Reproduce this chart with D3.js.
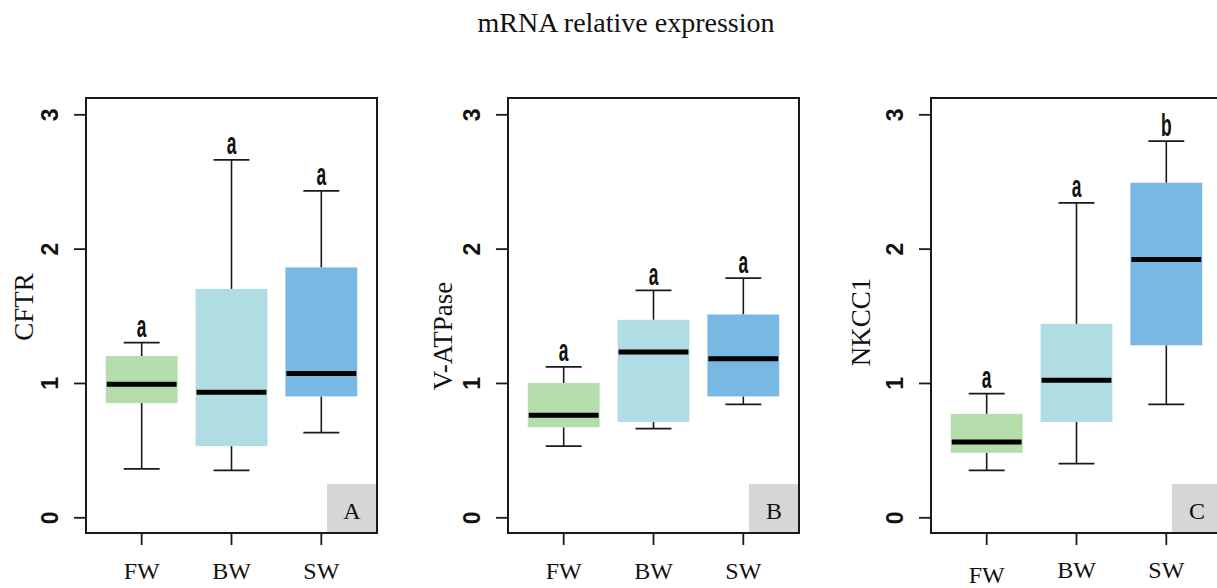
<!DOCTYPE html>
<html>
<head>
<meta charset="utf-8">
<script src="https://cdn.jsdelivr.net/npm/d3@7"></script>
<style>
  html, body { margin: 0; padding: 0; background: #ffffff; }
  svg { display: block; }
</style>
</head>
<body>
<div id="chart"></div>
<script>
// ---------------- data ----------------
const chartTitle = "mRNA relative expression";
const groups = ["FW", "BW", "SW"];
const genes = ["CFTR", "V-ATPase", "NKCC1"];
const panelTags = ["A", "B", "C"];
const yTicks = [0, 1, 2, 3];
// per gene, per group (FW, BW, SW)
const whiskerLow  = [[0.36, 0.35, 0.63], [0.53, 0.66, 0.84], [0.35, 0.40, 0.84]];
const q1          = [[0.85, 0.53, 0.90], [0.67, 0.71, 0.90], [0.48, 0.71, 1.28]];
const median      = [[0.99, 0.93, 1.07], [0.76, 1.23, 1.18], [0.56, 1.02, 1.92]];
const q3          = [[1.20, 1.70, 1.86], [1.00, 1.47, 1.51], [0.77, 1.44, 2.49]];
const whiskerHigh = [[1.30, 2.66, 2.43], [1.12, 1.69, 1.78], [0.92, 2.34, 2.80]];
const sigLetters  = [["a", "a", "a"], ["a", "a", "a"], ["a", "a", "b"]];
const groupColors = ["#b4ddab", "#afdde3", "#79b8e5"];

// ---------------- layout ----------------
const W = 1217, H = 588;
const panelLeft = [86, 508, 931];
const panelW = 291;
const frameTop = 98, frameBottom = 533;
const yTitleShift = [{dx: -53, cy: 307}, {dx: -56, cy: 336}, {dx: -61, cy: 322}];
const xLabelDy = [[0, 0, 0], [0, 0, 0], [4, -1, -1]];

const svg = d3.select("#chart").append("svg")
  .attr("width", W).attr("height", H);

svg.append("text")
  .attr("x", 626).attr("y", 32)
  .attr("text-anchor", "middle")
  .attr("font-family", "'Liberation Serif', 'Times New Roman', serif")
  .attr("font-size", 28)
  .attr("fill", "#111")
  .text(chartTitle);

const y = d3.scaleLinear().domain([0, 3]).range([517.3, 114.3]);

genes.forEach((gene, gi) => {
  const left = panelLeft[gi];
  const right = left + panelW;
  const x = d3.scaleLinear().domain([0.38, 3.62]).range([left, right]);
  const unit = x(1) - x(0);
  const boxW = 0.8 * unit, capW = 0.4 * unit;
  const g = svg.append("g");

  // grey tag box
  g.append("rect")
    .attr("x", right - 50).attr("y", frameBottom - 49)
    .attr("width", 50).attr("height", 49)
    .attr("fill", "#d6d6d6");
  g.append("text")
    .attr("x", right - 25).attr("y", frameBottom - 14)
    .attr("text-anchor", "middle")
    .attr("font-family", "'Liberation Serif', 'Times New Roman', serif")
    .attr("font-size", 24).attr("fill", "#111")
    .text(panelTags[gi]);

  groups.forEach((grp, k) => {
    const cx = x(k + 1);
    const stroke = "#1a1a1a";
    // whiskers
    g.append("line")
      .attr("x1", cx).attr("x2", cx)
      .attr("y1", y(whiskerHigh[gi][k])).attr("y2", y(q3[gi][k]))
      .attr("stroke", stroke).attr("stroke-width", 1.6);
    g.append("line")
      .attr("x1", cx).attr("x2", cx)
      .attr("y1", y(whiskerLow[gi][k])).attr("y2", y(q1[gi][k]))
      .attr("stroke", stroke).attr("stroke-width", 1.6);
    g.append("line")
      .attr("x1", cx - capW / 2).attr("x2", cx + capW / 2)
      .attr("y1", y(whiskerHigh[gi][k])).attr("y2", y(whiskerHigh[gi][k]))
      .attr("stroke", stroke).attr("stroke-width", 1.8);
    g.append("line")
      .attr("x1", cx - capW / 2).attr("x2", cx + capW / 2)
      .attr("y1", y(whiskerLow[gi][k])).attr("y2", y(whiskerLow[gi][k]))
      .attr("stroke", stroke).attr("stroke-width", 1.8);
    // box
    g.append("rect")
      .attr("x", cx - boxW / 2).attr("width", boxW)
      .attr("y", y(q3[gi][k])).attr("height", y(q1[gi][k]) - y(q3[gi][k]))
      .attr("fill", groupColors[k]);
    // median
    g.append("line")
      .attr("x1", cx - boxW / 2 + 1).attr("x2", cx + boxW / 2 - 1)
      .attr("y1", y(median[gi][k])).attr("y2", y(median[gi][k]))
      .attr("stroke", "#000").attr("stroke-width", 5);
    // significance letter
    g.append("text")
      .attr("transform", `translate(${cx},${y(whiskerHigh[gi][k]) - 5.5}) scale(0.56,1)`)
      .attr("text-anchor", "middle")
      .attr("font-family", "'Liberation Sans', Arial, sans-serif")
      .attr("font-size", 31).attr("font-weight", "bold")
      .attr("fill", "#111")
      .text(sigLetters[gi][k]);
    // x tick
    g.append("line")
      .attr("x1", cx).attr("x2", cx)
      .attr("y1", frameBottom).attr("y2", frameBottom + 12)
      .attr("stroke", stroke).attr("stroke-width", 1.8);
    g.append("text")
      .attr("x", cx).attr("y", 579 + xLabelDy[gi][k])
      .attr("text-anchor", "middle")
      .attr("font-family", "'Liberation Serif', 'Times New Roman', serif")
      .attr("font-size", 24).attr("fill", "#111")
      .text(grp);
  });

  // y axis ticks + labels via d3 axis
  const yAxis = d3.axisLeft(y).tickValues(yTicks).tickSize(12).tickPadding(0).tickFormat(d3.format("d"));
  const ax = g.append("g").attr("transform", `translate(${left},0)`).call(yAxis);
  ax.select(".domain").remove();
  ax.selectAll(".tick line").attr("stroke", "#1a1a1a").attr("stroke-width", 1.8);
  ax.selectAll(".tick text")
    .attr("x", null).attr("dy", null)
    .attr("transform", "translate(-28,0) rotate(-90)")
    .attr("text-anchor", "middle")
    .attr("font-family", "'Liberation Sans', Arial, sans-serif")
    .attr("font-size", 23).attr("font-weight", "bold")
    .attr("fill", "#111");

  // y title
  g.append("text")
    .attr("transform", `translate(${left + yTitleShift[gi].dx},${yTitleShift[gi].cy}) rotate(-90)`)
    .attr("text-anchor", "middle")
    .attr("font-family", "'Liberation Serif', 'Times New Roman', serif")
    .attr("font-size", 27).attr("fill", "#111")
    .text(gene);

  // frame
  g.append("rect")
    .attr("x", left).attr("y", frameTop)
    .attr("width", panelW).attr("height", frameBottom - frameTop)
    .attr("fill", "none").attr("stroke", "#1a1a1a").attr("stroke-width", 2);
});
</script>
</body>
</html>
